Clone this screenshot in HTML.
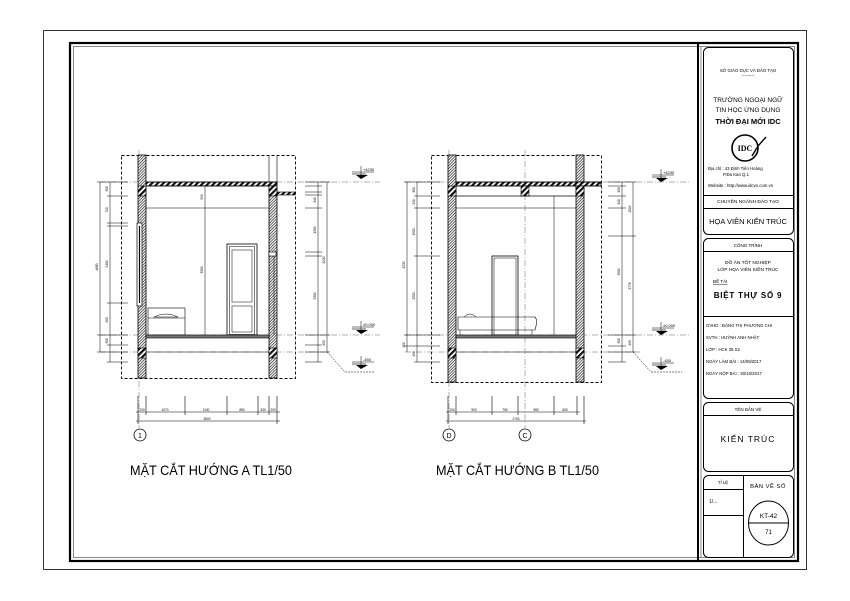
<!DOCTYPE html>
<html><head><meta charset="utf-8">
<style>
html,body{margin:0;padding:0;background:#fff;}
svg{display:block;font-family:"Liberation Sans",Arial,sans-serif;}
</style></head>
<body>
<svg width="850" height="601" viewBox="0 0 850 601" xmlns="http://www.w3.org/2000/svg">
<defs>
<pattern id="h" width="2" height="2" patternUnits="userSpaceOnUse" patternTransform="rotate(45)">
<rect width="2" height="2" fill="#fff"/><line x1="0" y1="0" x2="0" y2="2" stroke="#222" stroke-width="1.4"/>
</pattern>
<pattern id="h2" width="4" height="4" patternUnits="userSpaceOnUse" patternTransform="rotate(45)">
<rect width="4" height="4" fill="#fff"/><rect width="2.2" height="4" fill="#111"/>
</pattern>
</defs>
<rect width="850" height="601" fill="#fff"/>
<rect x="43.5" y="30.5" width="763" height="539" fill="none" stroke="#333" stroke-width="1"/>
<rect x="70" y="43" width="728" height="518" fill="none" stroke="#000" stroke-width="2.2"/>
<rect x="73.5" y="46.5" width="721" height="511" fill="none" stroke="#888" stroke-width="1"/>
<line x1="698" y1="44" x2="698" y2="560" stroke="#000" stroke-width="2"/>
<line x1="701" y1="47" x2="701" y2="557" stroke="#888" stroke-width="1"/>

<g fill="none" stroke="#000" stroke-width="1">
<rect x="703.5" y="47.5" width="90" height="187" rx="5"/>
<line x1="703.5" y1="195.5" x2="793.5" y2="195.5"/>
<line x1="703.5" y1="208.5" x2="793.5" y2="208.5"/>
<rect x="703.5" y="238.5" width="90" height="160" rx="5"/>
<line x1="703.5" y1="251.5" x2="793.5" y2="251.5"/>
<line x1="703.5" y1="316.5" x2="793.5" y2="316.5"/>
<rect x="703.5" y="402.5" width="90" height="69" rx="5"/>
<line x1="703.5" y1="415.5" x2="793.5" y2="415.5"/>
<rect x="703.5" y="475.5" width="90" height="82" rx="5"/>
<line x1="743.5" y1="475.5" x2="743.5" y2="557.5"/>
<line x1="703.5" y1="489.5" x2="743.5" y2="489.5"/>
<line x1="703.5" y1="515.5" x2="743.5" y2="515.5"/>
<ellipse cx="768.5" cy="523" rx="20" ry="22"/>
<line x1="748.5" y1="523" x2="788.5" y2="523"/>
</g>
<g font-size="4.3" fill="#000" text-anchor="middle">
<text x="748" y="72">SỞ GIÁO DỤC VÀ ĐÀO TẠO</text>
<text x="748" y="77">---------</text>
<text x="748" y="102" font-size="6.5">TRƯỜNG NGOẠI NGỮ</text>
<text x="748" y="112" font-size="6.5">TIN HỌC ỨNG DỤNG</text>
<text x="748" y="124" font-size="7.5" font-weight="bold">THỜI ĐẠI MỚI IDC</text>
<text x="748" y="203" font-size="4.8">CHUYÊN NGÀNH ĐÀO TẠO</text>
<text x="748" y="224" font-size="7.5">HỌA VIÊN KIẾN TRÚC</text>
<text x="748" y="247" font-size="4.5">CÔNG TRÌNH</text>
<text x="748" y="264" font-size="4.8">ĐỒ ÁN TỐT NGHIỆP</text>
<text x="748" y="271" font-size="4.8">LỚP HỌA VIÊN KIẾN TRÚC</text>
<text x="748" y="298" font-size="8" font-weight="bold" letter-spacing="0.8">BIỆT THỰ SỐ 9</text>
<text x="748" y="411" font-size="4.5">TÊN BẢN VẼ</text>
<text x="748" y="442" font-size="8.5" letter-spacing="1">KIẾN TRÚC</text>
<text x="723" y="484" font-size="4.3">TỈ LỆ</text>
<text x="768" y="488" font-size="5.8" letter-spacing="0.5">BẢN VẼ SỐ</text>
<text x="768.5" y="518" font-size="6.5">KT-42</text>
<text x="768.5" y="534" font-size="6">71</text>
</g>
<g font-size="4.3" fill="#000">
<text x="713" y="283" text-decoration="underline" font-size="4.5">ĐỀ TÀI</text>
<text x="708" y="170">Địa chỉ  : 43 Đinh Tiên Hoàng</text>
<text x="723" y="176">P.Đa Kao   Q.1</text>
<text x="708" y="187">Website : http://www.idcvn.com.vn</text>
<text x="706" y="327">GVHD  : ĐẶNG THỊ PHƯƠNG CHI</text>
<text x="706" y="339">SVTH   : HUỲNH ANH NHẬT</text>
<text x="706" y="351">LỚP     : HCK 35 S2</text>
<text x="706" y="363">NGÀY LÀM BÀI   : 14/08/2017</text>
<text x="706" y="375">NGÀY NỘP BÀI   : 30/10/2017</text>
<text x="709" y="503" font-size="5">1/...</text>
</g>
<g fill="none" stroke="#000">
<circle cx="745" cy="148" r="13" stroke-width="1.6"/>
<path d="M752 156 L758 146 L766 137" stroke-width="1.4"/>
</g>
<text x="745" y="151" font-size="8" font-weight="bold" text-anchor="middle" font-family="Liberation Serif,serif">IDC</text>

<!-- SECTION A -->
<g stroke="#000" fill="none">
<rect x="121.5" y="155.5" width="174" height="223" stroke-dasharray="3,2" stroke-width="0.9"/>
<line x1="139" y1="150" x2="139" y2="428" stroke="#666" stroke-width="0.5" stroke-dasharray="6,2,1,2"/>
<g stroke="#666" stroke-width="0.5" stroke-dasharray="6,2,1,2">
<line x1="100" y1="182" x2="380" y2="182"/>
<line x1="100" y1="335" x2="380" y2="335"/>
<line x1="100" y1="352" x2="330" y2="352"/>
</g>
<rect x="138" y="155" width="8" height="223" fill="url(#h)" stroke-width="0.8"/>
<rect x="269" y="182" width="8" height="196" fill="url(#h)" stroke-width="0.8"/>
<line x1="269" y1="155" x2="269" y2="182" stroke-width="0.6"/>
<line x1="277" y1="155" x2="277" y2="182" stroke-width="0.6"/>
<rect x="146" y="182" width="131" height="4" fill="url(#h2)" stroke-width="0.9"/>
<rect x="138" y="186" width="8" height="10" fill="url(#h2)" stroke-width="0.6"/>
<rect x="269" y="186" width="8" height="10" fill="url(#h2)" stroke-width="0.6"/>
<rect x="277" y="192" width="18" height="3" fill="url(#h2)" stroke-width="0.6"/>
<rect x="138" y="348" width="8" height="10" fill="url(#h2)" stroke-width="0.6"/>
<rect x="269" y="348" width="8" height="10" fill="url(#h2)" stroke-width="0.6"/>
<line x1="146" y1="208" x2="269" y2="208" stroke-width="0.6"/>
<rect x="137" y="223" width="5" height="83" fill="#fff" stroke-width="0.7"/>
<line x1="139.5" y1="226" x2="139.5" y2="303" stroke-width="1.2"/>
<rect x="269" y="252" width="7" height="4" fill="#fff" stroke-width="0.6"/>
<line x1="274" y1="256" x2="274" y2="335" stroke-width="0.5"/>
<rect x="227" y="244" width="30" height="91" stroke-width="0.8"/>
<rect x="229.5" y="246.5" width="25" height="88" stroke-width="0.5"/>
<rect x="232" y="250" width="20" height="52" stroke-width="0.5"/>
<rect x="232" y="306" width="20" height="26" stroke-width="0.5"/>
<rect x="148" y="308" width="37" height="27" stroke-width="0.6"/>
<path d="M154 317 Q166 311 178 317 Z" stroke-width="0.5"/>
<line x1="148" y1="318" x2="185" y2="318" stroke-width="0.5"/>
<rect x="146" y="335" width="123" height="3" fill="#777" stroke-width="0.6"/>
<line x1="146" y1="352" x2="269" y2="352" stroke-width="0.5"/>
<line x1="205" y1="186" x2="205" y2="335" stroke-width="0.5"/>
<line x1="100" y1="182" x2="100" y2="352" stroke-width="0.5"/>
<line x1="110" y1="182" x2="110" y2="362" stroke-width="0.5"/>
<g stroke-width="0.5">
<line x1="97" y1="182" x2="128" y2="182"/><line x1="107" y1="196" x2="128" y2="196"/>
<line x1="107" y1="223" x2="128" y2="223"/><line x1="107" y1="226" x2="128" y2="226"/>
<line x1="107" y1="303" x2="128" y2="303"/><line x1="97" y1="335" x2="128" y2="335"/>
<line x1="107" y1="345" x2="128" y2="345"/><line x1="97" y1="352" x2="128" y2="352"/>
<line x1="107" y1="362" x2="128" y2="362"/>
</g>
<line x1="318" y1="182" x2="318" y2="362" stroke-width="0.5"/>
<line x1="327" y1="182" x2="327" y2="352" stroke-width="0.5"/>
<g stroke-width="0.5">
<line x1="305" y1="182" x2="330" y2="182"/><line x1="305" y1="186" x2="322" y2="186"/>
<line x1="305" y1="192" x2="322" y2="192"/><line x1="305" y1="195" x2="322" y2="195"/>
<line x1="305" y1="208" x2="322" y2="208"/><line x1="305" y1="252" x2="322" y2="252"/>
<line x1="305" y1="256" x2="322" y2="256"/><line x1="305" y1="335" x2="330" y2="335"/>
<line x1="305" y1="345" x2="322" y2="345"/><line x1="305" y1="352" x2="330" y2="352"/>
<line x1="305" y1="362" x2="322" y2="362"/>
<path d="M327 352 L345 372 L375 372" stroke-dasharray="2,1"/>
</g>
<line x1="136" y1="412" x2="280" y2="412" stroke-width="0.5"/>
<line x1="136" y1="421" x2="280" y2="421" stroke-width="0.5"/>
<g stroke-width="0.6">
<line x1="138" y1="396" x2="138" y2="424"/><line x1="146" y1="396" x2="146" y2="415"/>
<line x1="185" y1="396" x2="185" y2="415"/><line x1="227" y1="396" x2="227" y2="415"/>
<line x1="258" y1="396" x2="258" y2="415"/><line x1="269" y1="396" x2="269" y2="415"/>
<line x1="277" y1="396" x2="277" y2="424"/>
</g>
<circle cx="140" cy="435" r="6" stroke-width="0.8"/>
</g>
<g font-size="3.2" fill="#000" text-anchor="middle">
<text x="142" y="411">200</text><text x="165" y="411">1070</text><text x="206" y="411">1130</text>
<text x="242" y="411">850</text><text x="263" y="411">330</text><text x="273" y="411">200</text>
<text x="207" y="420">3600</text>
<text x="140" y="437.8" font-size="7">1</text>
</g>
<g font-size="3.2" fill="#000" text-anchor="middle">
<text transform="translate(98,267) rotate(-90)">4680</text>
<text transform="translate(108,189) rotate(-90)">300</text>
<text transform="translate(108,210) rotate(-90)">710</text>
<text transform="translate(108,264) rotate(-90)">2100</text>
<text transform="translate(108,320) rotate(-90)">900</text>
<text transform="translate(108,341) rotate(-90)">300</text>
<text transform="translate(203,197) rotate(-90)">595</text>
<text transform="translate(203,270) rotate(-90)">3500</text>
<text transform="translate(316,230) rotate(-90)">1300</text>
<text transform="translate(316,296) rotate(-90)">2300</text>
<text transform="translate(316,200) rotate(-90)">340</text>
<text transform="translate(325,260) rotate(-90)">4230</text>
<text transform="translate(325,343) rotate(-90)">450</text>
</g>
<g>
<g transform="translate(352,172)"><line x1="0" y1="0" x2="22" y2="0" stroke="#000" stroke-width="0.6"/><line x1="0" y1="2" x2="14" y2="2" stroke="#000" stroke-width="0.6"/><line x1="9" y1="-6" x2="9" y2="3" stroke="#000" stroke-width="0.5"/><path d="M4 3 L16 3 L9 7 Z" fill="#000"/><text x="11" y="-1" font-size="4">+4230</text></g>
<g transform="translate(352,327)"><line x1="0" y1="0" x2="22" y2="0" stroke="#000" stroke-width="0.6"/><line x1="0" y1="2" x2="14" y2="2" stroke="#000" stroke-width="0.6"/><line x1="9" y1="-6" x2="9" y2="3" stroke="#000" stroke-width="0.5"/><path d="M4 3 L16 3 L9 7 Z" fill="#000"/><text x="11" y="-1" font-size="4">±0.000</text></g>
<g transform="translate(352,362)"><line x1="0" y1="0" x2="22" y2="0" stroke="#000" stroke-width="0.6"/><line x1="0" y1="2" x2="14" y2="2" stroke="#000" stroke-width="0.6"/><line x1="9" y1="-6" x2="9" y2="3" stroke="#000" stroke-width="0.5"/><path d="M4 3 L16 3 L9 7 Z" fill="#000"/><text x="11" y="-1" font-size="4">-450</text></g>
</g>

<!-- SECTION B -->
<g stroke="#000" fill="none">
<rect x="431.5" y="155.5" width="170" height="227" stroke-dasharray="3,2" stroke-width="0.9"/>
<g stroke="#666" stroke-width="0.5" stroke-dasharray="6,2,1,2">
<line x1="449" y1="150" x2="449" y2="428"/>
<line x1="525" y1="150" x2="525" y2="428"/>
<line x1="405" y1="182" x2="690" y2="182"/>
<line x1="405" y1="335" x2="690" y2="335"/>
<line x1="405" y1="352" x2="640" y2="352"/>
</g>
<rect x="448" y="155" width="8" height="227" fill="url(#h)" stroke-width="0.8"/>
<rect x="576" y="155" width="8" height="227" fill="url(#h)" stroke-width="0.8"/>
<rect x="456" y="182" width="145" height="4" fill="url(#h2)" stroke-width="0.9"/>
<rect x="448" y="186" width="8" height="10" fill="url(#h2)" stroke-width="0.6"/>
<rect x="521" y="186" width="8" height="10" fill="url(#h2)" stroke-width="0.6"/>
<rect x="576" y="186" width="8" height="10" fill="url(#h2)" stroke-width="0.6"/>
<rect x="448" y="348" width="8" height="10" fill="url(#h2)" stroke-width="0.6"/>
<rect x="576" y="348" width="8" height="10" fill="url(#h2)" stroke-width="0.6"/>
<line x1="456" y1="196" x2="576" y2="196" stroke-width="0.7"/>
<line x1="456" y1="208" x2="576" y2="208" stroke-width="0.6"/>
<line x1="554" y1="196" x2="554" y2="335" stroke-width="0.5"/>
<rect x="492" y="256" width="26" height="79" stroke-width="0.8"/>
<rect x="494" y="258" width="22" height="77" stroke-width="0.5"/>
<path d="M458 317 L535 317 Q538 320 535 330 L458 330 Z" stroke-width="0.6"/>
<path d="M464 317 Q470 311 476 317" stroke-width="0.5"/>
<line x1="460" y1="330" x2="460" y2="335" stroke-width="0.5"/><line x1="532" y1="330" x2="532" y2="335" stroke-width="0.5"/>
<rect x="456" y="335" width="120" height="3" fill="#777" stroke-width="0.6"/>
<line x1="456" y1="352" x2="576" y2="352" stroke-width="0.5"/>
<line x1="407" y1="182" x2="407" y2="352" stroke-width="0.5"/>
<line x1="417" y1="182" x2="417" y2="362" stroke-width="0.5"/>
<g stroke-width="0.5">
<line x1="404" y1="182" x2="440" y2="182"/><line x1="414" y1="196" x2="440" y2="196"/>
<line x1="414" y1="208" x2="440" y2="208"/><line x1="414" y1="256" x2="440" y2="256"/>
<line x1="404" y1="335" x2="440" y2="335"/><line x1="404" y1="346" x2="440" y2="346"/>
<line x1="414" y1="362" x2="440" y2="362"/>
</g>
<line x1="622" y1="182" x2="622" y2="362" stroke-width="0.5"/>
<line x1="633" y1="182" x2="633" y2="352" stroke-width="0.5"/>
<g stroke-width="0.5">
<line x1="608" y1="182" x2="636" y2="182"/><line x1="608" y1="186" x2="626" y2="186"/>
<line x1="608" y1="196" x2="626" y2="196"/><line x1="608" y1="208" x2="626" y2="208"/>
<line x1="608" y1="236" x2="636" y2="236"/><line x1="608" y1="335" x2="636" y2="335"/>
<line x1="608" y1="346" x2="626" y2="346"/><line x1="608" y1="352" x2="636" y2="352"/>
<line x1="608" y1="362" x2="626" y2="362"/>
<path d="M633 352 L651 372 L682 372" stroke-dasharray="2,1"/>
</g>
<line x1="446" y1="412" x2="580" y2="412" stroke-width="0.5"/>
<line x1="446" y1="421" x2="586" y2="421" stroke-width="0.5"/>
<g stroke-width="0.6">
<line x1="448" y1="396" x2="448" y2="424"/><line x1="456" y1="396" x2="456" y2="415"/>
<line x1="492" y1="396" x2="492" y2="415"/><line x1="518" y1="396" x2="518" y2="415"/>
<line x1="554" y1="396" x2="554" y2="415"/><line x1="577" y1="396" x2="577" y2="415"/>
<line x1="584" y1="396" x2="584" y2="424"/>
</g>
<circle cx="449" cy="435" r="6" stroke-width="0.8"/>
<circle cx="525" cy="435" r="6" stroke-width="0.8"/>
</g>
<g font-size="3.2" fill="#000" text-anchor="middle">
<text x="452" y="411">200</text><text x="474" y="411">900</text><text x="505" y="411">750</text>
<text x="536" y="411">983</text><text x="565" y="411">600</text>
<text x="516" y="420">2700</text>
<text x="449" y="437.8" font-size="7">D</text>
<text x="525" y="437.8" font-size="7">C</text>
<text transform="translate(405,265) rotate(-90)">4230</text>
<text transform="translate(405,345) rotate(-90)">450</text>
<text transform="translate(415,190) rotate(-90)">300</text>
<text transform="translate(415,202) rotate(-90)">340</text>
<text transform="translate(415,232) rotate(-90)">1500</text>
<text transform="translate(415,296) rotate(-90)">2500</text>
<text transform="translate(415,354) rotate(-90)">450</text>
<text transform="translate(620,190) rotate(-90)">300</text>
<text transform="translate(620,202) rotate(-90)">340</text>
<text transform="translate(620,272) rotate(-90)">3500</text>
<text transform="translate(620,341) rotate(-90)">300</text>
<text transform="translate(631,209) rotate(-90)">1504</text>
<text transform="translate(631,286) rotate(-90)">2776</text>
<text transform="translate(631,343) rotate(-90)">450</text>
</g>
<g>
<g transform="translate(652,175)"><line x1="0" y1="0" x2="22" y2="0" stroke="#000" stroke-width="0.6"/><line x1="0" y1="2" x2="14" y2="2" stroke="#000" stroke-width="0.6"/><line x1="9" y1="-6" x2="9" y2="3" stroke="#000" stroke-width="0.5"/><path d="M4 3 L16 3 L9 7 Z" fill="#000"/><text x="11" y="-1" font-size="4">+4230</text></g>
<g transform="translate(652,328)"><line x1="0" y1="0" x2="22" y2="0" stroke="#000" stroke-width="0.6"/><line x1="0" y1="2" x2="14" y2="2" stroke="#000" stroke-width="0.6"/><line x1="9" y1="-6" x2="9" y2="3" stroke="#000" stroke-width="0.5"/><path d="M4 3 L16 3 L9 7 Z" fill="#000"/><text x="11" y="-1" font-size="4">±0.000</text></g>
<g transform="translate(652,363)"><line x1="0" y1="0" x2="22" y2="0" stroke="#000" stroke-width="0.6"/><line x1="0" y1="2" x2="14" y2="2" stroke="#000" stroke-width="0.6"/><line x1="9" y1="-6" x2="9" y2="3" stroke="#000" stroke-width="0.5"/><path d="M4 3 L16 3 L9 7 Z" fill="#000"/><text x="11" y="-1" font-size="4">-450</text></g>
</g>

<text x="130" y="475" font-size="14" textLength="162" lengthAdjust="spacingAndGlyphs">MẶT CẮT HƯỚNG A TL1/50</text>
<text x="436" y="475" font-size="14" textLength="163" lengthAdjust="spacingAndGlyphs">MẶT CẮT HƯỚNG B TL1/50</text>
</svg>
</body></html>
